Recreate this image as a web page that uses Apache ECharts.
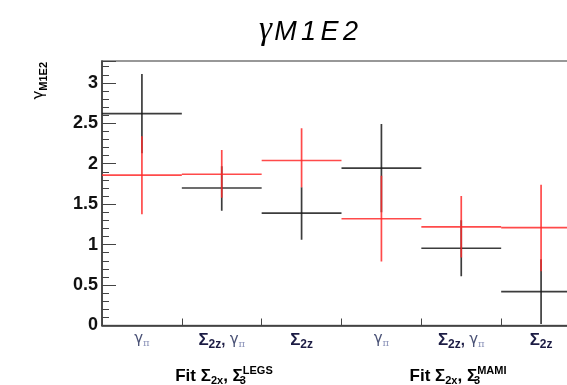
<!DOCTYPE html>
<html>
<head>
<meta charset="utf-8">
<script src="https://cdn.jsdelivr.net/npm/echarts@6/dist/echarts.min.js"></script>
<style>html,body{margin:0;padding:0;background:#fff;}#c{width:567px;height:385px;}</style>
</head>
<body>
<div id="c"></div>
<script>
// categories (rich-text markup for subscripts)
const categories = [
  '{g|γ}{p|π}',
  '{s|Σ}{sub|2z}{c|, }{g|γ}{p|π}',
  '{s|Σ}{sub|2z}',
  '{g|γ}{p|π}',
  '{s|Σ}{sub|2z}{c|, }{g|γ}{p|π}',
  '{s|Σ}{sub|2z}'
];
const groupLabels = ['LEGS', 'MAMI'];
// black crosses
const blackVal = [2.62, 1.70, 1.39, 1.945, 0.955, 0.42];
const blackLo  = [2.13, 1.42, 1.06, 1.40, 0.61, 0.02];
const blackHi  = [3.11, 1.97, 1.71, 2.49, 1.30, 0.82];
// red crosses
const redVal = [1.86, 1.87, 2.04, 1.32, 1.22, 1.21];
const redLo  = [1.375, 1.58, 1.71, 0.79, 0.84, 0.67];
const redHi  = [2.34, 2.17, 2.44, 1.85, 1.60, 1.74];
const yTickLabels = ['0', '0.5', '1', '1.5', '2', '2.5', '3'];

const yMax = 3.27;
const gridPos = {left: 102, top: 61, width: 479, height: 264.5, outerBoundsMode: 'none', containLabel: false};

function crossData(v, lo, hi) {
  return v.map((val, i) => [i, val, lo[i], hi[i]]);
}
function crossSeries(name, data, color, z) {
  return {
    type: 'custom', name: name, xAxisIndex: 0, yAxisIndex: 0, z: z,
    clip: true,
    renderItem: function (params, api) {
      const i = api.value(0);
      const c = api.coord([i, api.value(1)]);
      const bw = api.size([1, 0])[0];
      const lo = api.coord([i, api.value(2)]);
      const hi = api.coord([i, api.value(3)]);
      const style = {stroke: color, lineWidth: 1.7, opacity: 0.85};
      return {
        type: 'group',
        children: [
          {type: 'line', shape: {x1: c[0] - bw / 2, y1: c[1], x2: c[0] + bw / 2, y2: c[1]}, style: style},
          {type: 'line', shape: {x1: c[0], y1: lo[1], x2: c[0], y2: hi[1]}, style: style}
        ]
      };
    },
    data: data
  };
}

const catRich = {
  s: {fontSize: 17, fontWeight: 'bold', color: '#1c1c44', fontFamily: 'Liberation Sans'},
  sub: {fontSize: 12, fontWeight: 'bold', color: '#1c1c44', fontFamily: 'Liberation Sans', padding: [8, 0, 0, 0]},
  c: {fontSize: 15, fontWeight: 'bold', color: '#1c1c44', fontFamily: 'Liberation Sans'},
  g: {fontSize: 15, color: '#4a5276', fontFamily: 'DejaVu Sans'},
  p: {fontSize: 10, color: '#8a92b8', fontFamily: 'DejaVu Serif', padding: [8, 0, 0, 0]}
};
const grpRich = {
  f: {fontSize: 17, fontWeight: 'bold', color: '#111', fontFamily: 'Liberation Sans'},
  S: {fontSize: 17, fontWeight: 'bold', color: '#111', fontFamily: 'Liberation Sans'},
  sub: {fontSize: 11, fontWeight: 'bold', color: '#111', fontFamily: 'Liberation Sans', padding: [10, 0, 0, 0]},
  s3: {fontSize: 11, fontWeight: 'bold', color: '#111', fontFamily: 'Liberation Sans', padding: [10, 0, 0, 0], width: 0},
  sup: {fontSize: 11, fontWeight: 'bold', color: '#111', fontFamily: 'Liberation Sans', padding: [0, 0, 10, 0]}
};
function groupText(label) {
  return '{f|Fit }{S|Σ}{sub|2x}{f|, }{S|Σ}{s3|3}{sup|' + label + '}';
}

const chart = echarts.init(document.getElementById('c'), null, {renderer: 'canvas'});
chart.setOption({
  animation: false,
  backgroundColor: '#fff',
  grid: [
    Object.assign({show: true, borderColor: '#777', borderWidth: 1.5, backgroundColor: 'transparent'}, gridPos),
    Object.assign({show: false}, gridPos)
  ],
  xAxis: [
    {
      type: 'category', gridIndex: 0, data: categories, boundaryGap: true, position: 'bottom',
      axisLine: {show: true, lineStyle: {color: '#333', width: 1.5}},
      axisTick: {show: true, inside: true, length: 7, interval: 0, lineStyle: {color: '#444', width: 1}},
      axisLabel: {show: true, interval: 0, margin: 5, rich: catRich, formatter: v => v},
      splitLine: {show: false}
    },
    {type: 'value', gridIndex: 1, min: 0, max: 6, show: false}
  ],
  yAxis: [
    {
      type: 'value', gridIndex: 0, min: 0, max: yMax, interval: 0.5, position: 'left',
      axisLine: {show: true, lineStyle: {color: '#333', width: 1.5}},
      axisTick: {show: true, inside: true, length: 14, lineStyle: {color: '#444', width: 1}},
      axisLabel: {
        show: true, margin: 4, fontSize: 18, fontWeight: 'bold', color: '#111', fontFamily: 'Liberation Sans',
        formatter: function (v) {
          const k = Math.round(v / 0.5);
          return Math.abs(v - k * 0.5) < 1e-6 && yTickLabels[k] !== undefined ? yTickLabels[k] : '';
        }
      },
      splitLine: {show: false}
    },
    {
      type: 'value', gridIndex: 1, min: 0, max: yMax, interval: 0.1, position: 'left',
      axisLine: {show: false},
      axisTick: {show: true, inside: true, length: 7, lineStyle: {color: '#444', width: 1}},
      axisLabel: {show: false},
      splitLine: {show: false}
    }
  ],
  series: [
    crossSeries('black', crossData(blackVal, blackLo, blackHi), '#1a1a1a', 2),
    crossSeries('red', crossData(redVal, redLo, redHi), '#ff2a2a', 3)
  ],
  graphic: [
    {
      type: 'text', left: 259, top: 14,
      style: {
        text: '{g|γ}{m|M}{m|1}{m|E}{m|2}',
        rich: {
          g: {fontSize: 33, fontStyle: 'italic', fontFamily: 'Liberation Serif', color: '#111'},
          m: {fontSize: 27, fontStyle: 'italic', fontFamily: 'Liberation Sans', color: '#111', padding: [3, 2.2, 0, 2.2]}
        }
      }
    },
    {
      type: 'text', x: 39, y: 62, rotation: Math.PI / 2,
      style: {
        text: '{g|γ}{sub|M1E2}', align: 'right', verticalAlign: 'middle',
        rich: {
          g: {fontSize: 15, color: '#111', fontFamily: 'DejaVu Sans'},
          sub: {fontSize: 11, fontWeight: 'bold', color: '#111', fontFamily: 'Liberation Sans', padding: [10, 0, 0, 0]}
        }
      }
    },
    {
      type: 'text', x: 224, y: 376,
      style: {text: groupText(groupLabels[0]), align: 'center', verticalAlign: 'middle', rich: grpRich}
    },
    {
      type: 'text', x: 458, y: 376,
      style: {text: groupText(groupLabels[1]), align: 'center', verticalAlign: 'middle', rich: grpRich}
    }
  ]
});
</script>
</body>
</html>
